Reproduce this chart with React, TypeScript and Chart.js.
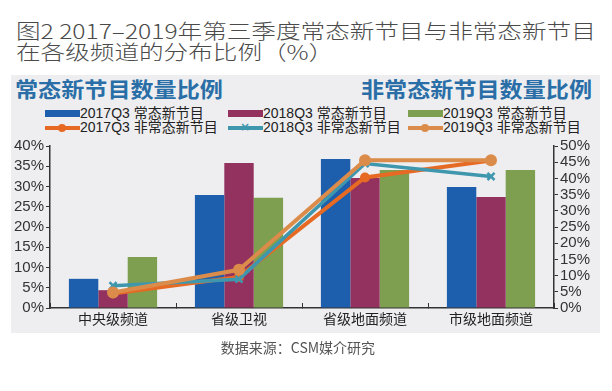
import React, { useEffect, useRef } from "react";
import { Chart, registerables } from "chart.js";

Chart.register(...registerables);

const categories = ["中央级频道", "省级卫视", "省级地面频道", "市级地面频道"];
const regular2017 = [7.2, 27.9, 36.8, 29.9];
const regular2018 = [4.4, 35.8, 32.1, 27.4];
const regular2019 = [12.6, 27.2, 34.1, 34.1];
const special2017 = [4.5, 9.6, 40.3, 45.5];
const special2018 = [6.9, 8.9, 44.6, 40.6];
const special2019 = [4.8, 11.8, 45.6, 45.6];
const seriesLabels = [
  "2017Q3 常态新节目",
  "2018Q3 常态新节目",
  "2019Q3 常态新节目",
  "2017Q3 非常态新节目",
  "2018Q3 非常态新节目",
  "2019Q3 非常态新节目",
];
const titleLines = ["图2 2017–2019年第三季度常态新节目与非常态新节目", "在各级频道的分布比例（%）"];
const leftHeader = "常态新节目数量比例";
const rightHeader = "非常态新节目数量比例";
const sourceText = "数据来源：CSM媒介研究";

const BLUE = "#1d5fad";
const PURPLE = "#93325f";
const GREEN = "#7d9f4f";
const ORANGE = "#e66a23";
const TEAL = "#3f97ae";
const TAN = "#dc8c4a";
const CJK = '"Liberation Sans", Arial, "Noto Sans CJK SC", sans-serif';

function App() {
  const ref = useRef<HTMLCanvasElement | null>(null);

  useEffect(() => {
    if (!ref.current) return;
    const tickFont = { family: CJK, size: 15 };
    const chart = new Chart(ref.current, {
      type: "bar",
      data: {
        labels: categories,
        datasets: [
          {
            type: "line",
            label: seriesLabels[5],
            data: special2019,
            yAxisID: "y1",
            borderColor: TAN,
            backgroundColor: TAN,
            borderWidth: 4,
            pointStyle: "circle",
            pointRadius: 6,
            pointBorderWidth: 0,
            tension: 0,
            order: 0,
          } as any,
          {
            type: "line",
            label: seriesLabels[4],
            data: special2018,
            yAxisID: "y1",
            borderColor: TEAL,
            backgroundColor: TEAL,
            borderWidth: 3.5,
            pointStyle: "crossRot",
            pointRadius: 5,
            pointBorderWidth: 2.5,
            tension: 0,
            order: 0,
          } as any,
          {
            type: "line",
            label: seriesLabels[3],
            data: special2017,
            yAxisID: "y1",
            borderColor: ORANGE,
            backgroundColor: ORANGE,
            borderWidth: 4,
            pointStyle: "circle",
            pointRadius: 5,
            pointBorderWidth: 0,
            tension: 0,
            order: 0,
          } as any,
          {
            type: "bar",
            label: seriesLabels[0],
            data: regular2017,
            yAxisID: "y",
            backgroundColor: BLUE,
            barPercentage: 1,
            categoryPercentage: 0.7,
            order: 5,
          },
          {
            type: "bar",
            label: seriesLabels[1],
            data: regular2018,
            yAxisID: "y",
            backgroundColor: PURPLE,
            barPercentage: 1,
            categoryPercentage: 0.7,
            order: 5,
          },
          {
            type: "bar",
            label: seriesLabels[2],
            data: regular2019,
            yAxisID: "y",
            backgroundColor: GREEN,
            barPercentage: 1,
            categoryPercentage: 0.7,
            order: 5,
          },
        ],
      },
      options: {
        responsive: false,
        animation: false,
        layout: { padding: { top: 146, left: 0, right: 0, bottom: 0 } },
        plugins: { legend: { display: false }, tooltip: { enabled: false }, title: { display: false } },
        scales: {
          x: {
            grid: { display: true, offset: true, drawOnChartArea: false, drawTicks: true, tickLength: -5, color: "#333", lineWidth: 1 },
            border: { display: true, color: "#333", width: 1.5 },
            ticks: { font: { family: CJK, size: 14 }, color: "#222", padding: 9 },
            afterFit: (s: any) => {
              s.height = 391 - 308;
            },
          },
          y: {
            position: "left",
            min: 0,
            max: 40,
            ticks: { stepSize: 5, autoSkip: false, callback: (v: any) => v + "%", font: tickFont, color: "#333", padding: 2 },
            grid: { display: true, drawOnChartArea: false, drawTicks: true, tickLength: 4, color: "#333" },
            border: { display: true, color: "#333", width: 1.5 },
            afterFit: (s: any) => {
              s.width = 50;
            },
          },
          y1: {
            position: "right",
            min: 0,
            max: 50,
            ticks: { stepSize: 5, autoSkip: false, callback: (v: any) => v + "%", font: tickFont, color: "#333", padding: 2 },
            grid: { display: true, drawOnChartArea: false, drawTicks: true, tickLength: 4, color: "#333" },
            border: { display: true, color: "#333", width: 1.5 },
            afterFit: (s: any) => {
              s.width = 612 - 554;
            },
          },
        },
      },
    });
    return () => chart.destroy();
  }, []);

  const legendCols = [45, 228, 408];
  const legendRows = [113, 127];
  const swatches = [
    { kind: "bar", color: BLUE },
    { kind: "bar", color: PURPLE },
    { kind: "bar", color: GREEN },
    { kind: "circle", color: ORANGE },
    { kind: "cross", color: TEAL },
    { kind: "circle", color: TAN },
  ];

  return (
    <div style={{ position: "absolute", left: 0, top: 0, width: 612, height: 391, background: "#fff", overflow: "hidden" }}>
      {titleLines.map((t, i) => (
        <div
          key={i}
          style={{
            position: "absolute",
            left: 16,
            top: 31 + i * 21 - 12,
            height: 24,
            lineHeight: "24px",
            whiteSpace: "nowrap",
            fontFamily: '"Noto Sans CJK SC", sans-serif',
            fontSize: 20,
            fontWeight: 300,
            color: "#4a4a4a",
            transform: "scaleX(1.23)",
            transformOrigin: "left center",
          }}
        >
          {t}
        </div>
      ))}
      <div style={{ position: "absolute", left: 11, top: 75, width: 589, height: 258, background: "#eeeef0" }} />
      <div
        style={{
          position: "absolute",
          left: 15,
          top: 88 - 13,
          lineHeight: "26px",
          whiteSpace: "nowrap",
          fontFamily: '"Noto Sans CJK SC", sans-serif',
          fontSize: 21,
          fontWeight: 700,
          color: "#2a6ea7",
          transform: "scaleX(1.1)",
          transformOrigin: "left center",
        }}
      >
        {leftHeader}
      </div>
      <div
        style={{
          position: "absolute",
          right: 612 - 592,
          top: 88 - 13,
          lineHeight: "26px",
          whiteSpace: "nowrap",
          fontFamily: '"Noto Sans CJK SC", sans-serif',
          fontSize: 21,
          fontWeight: 700,
          color: "#2a6ea7",
          transform: "scaleX(1.1)",
          transformOrigin: "right center",
        }}
      >
        {rightHeader}
      </div>
      {seriesLabels.map((lab, i) => {
        const col = i % 3;
        const row = Math.floor(i / 3);
        const x = legendCols[col];
        const y = legendRows[row];
        const sw = swatches[i];
        return (
          <div key={i} style={{ position: "absolute", left: x, top: y - 8, height: 16, display: "flex", alignItems: "center", whiteSpace: "nowrap" }}>
            <div style={{ position: "relative", width: 35, height: 16 }}>
              {sw.kind === "bar" ? (
                <div style={{ position: "absolute", left: 0, top: 5, width: 35, height: 7, background: sw.color }} />
              ) : (
                <>
                  <div style={{ position: "absolute", left: 0, top: 6.5, width: 35, height: 4, background: sw.color }} />
                  {sw.kind === "circle" ? (
                    <div style={{ position: "absolute", left: 13, top: 4.5, width: 8, height: 8, borderRadius: 4, background: sw.color }} />
                  ) : (
                    <div style={{ position: "absolute", left: 12, top: 2, width: 11, height: 12, color: sw.color, fontSize: 12, lineHeight: "12px", fontWeight: 700, fontFamily: "DejaVu Sans" }}>×</div>
                  )}
                </>
              )}
            </div>
            <span style={{ fontFamily: CJK, fontSize: 14, color: "#222", lineHeight: "16px" }}>{lab}</span>
          </div>
        );
      })}
      <canvas ref={ref} width={612} height={391} style={{ position: "absolute", left: 0, top: 0, width: 612, height: 391 }} />
      <div
        style={{
          position: "absolute",
          left: 0,
          width: 596,
          top: 347 - 10,
          textAlign: "center",
          lineHeight: "20px",
          fontFamily: '"Noto Sans CJK SC", sans-serif',
          fontSize: 14,
          color: "#555",
        }}
      >
        {sourceText}
      </div>
    </div>
  );
}

export default App;
